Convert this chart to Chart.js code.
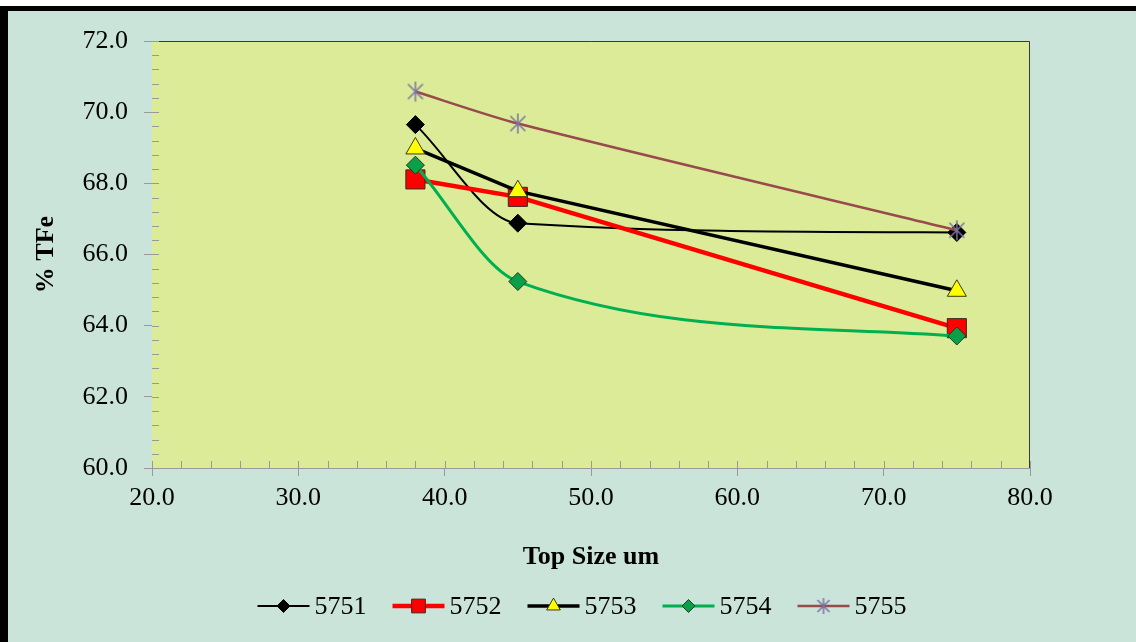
<!DOCTYPE html>
<html>
<head>
<meta charset="utf-8">
<script src="https://cdn.jsdelivr.net/npm/chart.js@4"></script>
<style>
  body { margin: 0; background: #fff; overflow: hidden; }
  #frame { position: absolute; left: 0; top: 6px; width: 1200px; height: 700px;
           background: #cbe4d9; border-left: 8px solid #000; border-top: 5px solid #000; }
  #wrap { position: absolute; left: 0; top: 0; width: 1136px; height: 642px; }
</style>
</head>
<body>
<div id="frame"></div>
<div id="wrap"><canvas id="myChart" width="1136" height="642"></canvas></div>
<script>
// top size (um) for each sample
var sizes = [38, 45, 75];
var names = ['5751', '5752', '5753', '5754', '5755'];
var s5751 = [69.65, 66.88, 66.62];
var s5752 = [68.11, 67.62, 63.93];
var s5753 = [68.98, 67.78, 64.98];
var s5754 = [68.51, 65.24, 63.71];
var s5755 = [70.58, 69.68, 66.68];
var xTitle = 'Top Size um';
var yTitle = '% TFe';

function pts(vals) {
  var out = [];
  for (var i = 0; i < sizes.length; i++) out.push({ x: sizes[i], y: vals[i] });
  return out;
}

// asterisk marker like excel's
function asterisk(size, color) {
  var c = document.createElement('canvas');
  c.width = size; c.height = size;
  var g = c.getContext('2d');
  var m = size / 2, r = size / 2 - 1;
  g.strokeStyle = color;
  g.lineWidth = 1.5;
  g.beginPath();
  g.moveTo(m, m - r); g.lineTo(m, m + r);
  g.moveTo(m - r * 0.75, m - r * 0.75); g.lineTo(m + r * 0.75, m + r * 0.75);
  g.moveTo(m + r * 0.75, m - r * 0.75); g.lineTo(m - r * 0.75, m + r * 0.75);
  g.stroke();
  return c;
}
var star = asterisk(22, '#7d72a6');
var starSmall = asterisk(18, '#7d72a6');

var serif = '"Liberation Serif", "Times New Roman", serif';

var plotBox = {
  id: 'plotBox',
  beforeDatasetsDraw: function (chart) {
    var a = chart.chartArea, ctx = chart.ctx;
    ctx.save();
    ctx.fillStyle = '#dbeb97';
    ctx.fillRect(a.left, a.top, a.right - a.left, a.bottom - a.top);
    ctx.strokeStyle = '#3a3a3a';
    ctx.lineWidth = 1;
    ctx.beginPath();
    ctx.moveTo(a.left, a.top + 0.5); ctx.lineTo(a.right - 0.5, a.top + 0.5); ctx.lineTo(a.right - 0.5, a.bottom);
    ctx.stroke();
    // ticks inside the plot
    var xs = chart.scales.x, ys = chart.scales.y;
    ctx.strokeStyle = '#999';
    ctx.beginPath();
    for (var v = ys.min; v <= ys.max + 0.001; v += 0.4) {
      var py = Math.round(ys.getPixelForValue(v)) + 0.5;
      ctx.moveTo(a.left, py); ctx.lineTo(a.left + 7, py);
    }
    for (var u = xs.min; u <= xs.max + 0.001; u += 2) {
      var px = Math.round(xs.getPixelForValue(u)) + 0.5;
      ctx.moveTo(px, a.bottom); ctx.lineTo(px, a.bottom - 7);
    }
    ctx.stroke();
    ctx.restore();
  },
  afterDraw: function (chart) {
    var a = chart.chartArea, ctx = chart.ctx;
    ctx.save();
    ctx.fillStyle = '#000';
    ctx.font = 'bold 26px ' + serif;
    ctx.textAlign = 'center';
    ctx.textBaseline = 'middle';
    ctx.fillText(xTitle, (a.left + a.right) / 2, 557);
    ctx.translate(46, (a.top + a.bottom) / 2);
    ctx.rotate(-Math.PI / 2);
    ctx.fillText(yTitle, 0, 0);
    ctx.restore();

    // legend: line + marker + label
    ctx.save();
    ctx.font = '26px ' + serif;
    ctx.textBaseline = 'middle';
    var lineW = 52, gap = 5, between = 26, ly = 606;
    var total = 0;
    chart.data.datasets.forEach(function (d) { total += lineW + gap + ctx.measureText(d.label).width + between; });
    total -= between;
    var x = 582 - total / 2;
    chart.data.datasets.forEach(function (d) {
      ctx.strokeStyle = d.borderColor;
      ctx.lineWidth = d.borderWidth;
      ctx.beginPath(); ctx.moveTo(x, ly); ctx.lineTo(x + lineW, ly); ctx.stroke();
      ctx.fillStyle = d.pointBackgroundColor;
      ctx.strokeStyle = d.pointBorderColor;
      ctx.lineWidth = 1;
      Chart.helpers.drawPoint(ctx, {
        pointStyle: d.legendStyle || d.pointStyle,
        radius: d.pointRadius * 0.72, rotation: 0, borderWidth: 1
      }, x + lineW / 2, ly);
      ctx.fillStyle = '#000';
      ctx.fillText(d.label, x + lineW + gap, ly + 1);
      x += lineW + gap + ctx.measureText(d.label).width + between;
    });
    ctx.restore();
  }
};

var ctx = document.getElementById('myChart').getContext('2d');
var myChart = new Chart(ctx, {
  type: 'line',
  data: {
    datasets: [
      { label: names[0], data: pts(s5751), borderColor: '#000', borderWidth: 2,
        cubicInterpolationMode: 'monotone', pointStyle: 'rectRot', pointRadius: 9,
        pointBackgroundColor: '#000', pointBorderColor: '#000', pointBorderWidth: 1, order: 5 },
      { label: names[1], data: pts(s5752), borderColor: '#ff0000', borderWidth: 4.5,
        tension: 0, pointStyle: 'rect', pointRadius: 13.5,
        pointBackgroundColor: '#ff0000', pointBorderColor: '#3a2a20', pointBorderWidth: 1, order: 4 },
      { label: names[2], data: pts(s5753), borderColor: '#000', borderWidth: 3.5,
        tension: 0, pointStyle: 'triangle', pointRadius: 11,
        pointBackgroundColor: '#ffff00', pointBorderColor: '#3a3a10', pointBorderWidth: 1, order: 3 },
      { label: names[3], data: pts(s5754), borderColor: '#00b050', borderWidth: 3,
        cubicInterpolationMode: 'monotone', pointStyle: 'rectRot', pointRadius: 9,
        pointBackgroundColor: '#0aa04a', pointBorderColor: '#1f3a20', pointBorderWidth: 1, order: 2 },
      { label: names[4], data: pts(s5755), borderColor: '#984a4c', borderWidth: 2.5,
        tension: 0.25, pointStyle: star, legendStyle: starSmall, pointRadius: 11,
        pointBackgroundColor: '#7d72a6', pointBorderColor: '#7d72a6', pointBorderWidth: 1, order: 1 }
    ]
  },
  options: {
    animation: false,
    responsive: false,
    layout: { padding: { top: 41, right: 106, left: 0, bottom: 0 } },
    plugins: { legend: { display: false }, tooltip: { enabled: false } },
    scales: {
      x: {
        type: 'linear', min: 20, max: 80,
        ticks: { stepSize: 10, padding: 7, color: '#000', font: { family: serif, size: 26 },
                 callback: function (v) { return v.toFixed(1); } },
        grid: { drawOnChartArea: false, tickLength: 8, color: '#999' },
        border: { color: '#999', width: 1 },
        afterFit: function (s) { s.height = 174; }
      },
      y: {
        min: 60, max: 72,
        ticks: { stepSize: 2, padding: 16, color: '#000', font: { family: serif, size: 26 },
                 callback: function (v) { return v.toFixed(1); } },
        grid: { drawOnChartArea: false, tickLength: 8, color: '#999' },
        border: { color: '#999', width: 1 },
        afterFit: function (s) { s.width = 152; }
      }
    }
  },
  plugins: [plotBox]
});
</script>
</body>
</html>
